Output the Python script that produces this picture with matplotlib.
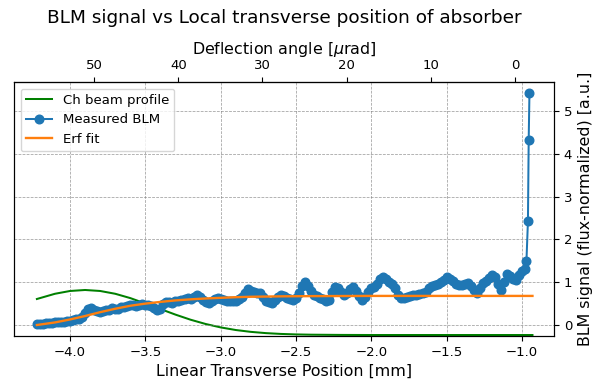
import numpy as np
import matplotlib
matplotlib.use("Agg")
import matplotlib.pyplot as plt

# ---- data ----
blm_x = [-4.22, -4.20, -4.18, -4.16, -4.14, -4.12, -4.10, -4.08, -4.06, -4.04,
         -4.02, -4.00, -3.98, -3.96, -3.94, -3.92, -3.90, -3.88, -3.86, -3.84,
         -3.82, -3.80, -3.78, -3.76, -3.74, -3.72, -3.70, -3.68, -3.66, -3.64,
         -3.62, -3.60, -3.58, -3.56, -3.54, -3.52, -3.50, -3.48, -3.46, -3.44,
         -3.42, -3.40, -3.38, -3.36, -3.34, -3.32, -3.30, -3.28, -3.26, -3.24,
         -3.22, -3.20, -3.18, -3.16, -3.14, -3.12, -3.10, -3.08, -3.06, -3.04,
         -3.02, -3.00, -2.98, -2.96, -2.94, -2.92, -2.90, -2.88, -2.86, -2.84,
         -2.82, -2.80, -2.78, -2.76, -2.74, -2.72, -2.70, -2.68, -2.66, -2.64,
         -2.62, -2.60, -2.58, -2.56, -2.54, -2.52, -2.50, -2.48, -2.46, -2.44,
         -2.42, -2.40, -2.38, -2.36, -2.34, -2.32, -2.30, -2.28, -2.26, -2.24,
         -2.22, -2.20, -2.18, -2.16, -2.14, -2.12, -2.10, -2.08, -2.06, -2.04,
         -2.02, -2.00, -1.98, -1.96, -1.94, -1.92, -1.90, -1.88, -1.86, -1.84,
         -1.82, -1.80, -1.78, -1.76, -1.74, -1.72, -1.70, -1.68, -1.66, -1.64,
         -1.62, -1.60, -1.58, -1.56, -1.54, -1.52, -1.50, -1.48, -1.46, -1.44,
         -1.42, -1.40, -1.38, -1.36, -1.34, -1.32, -1.30, -1.28, -1.26, -1.24,
         -1.22, -1.20, -1.18, -1.16, -1.14, -1.12, -1.10, -1.08, -1.06, -1.04,
         -1.02, -1.00, -0.98, -0.97, -0.96, -0.955, -0.95]
blm_y = [0.02, 0.02, 0.03, 0.04, 0.04, 0.05, 0.06, 0.06, 0.07, 0.08,
         0.09, 0.10, 0.11, 0.13, 0.15, 0.19, 0.27, 0.38, 0.40, 0.35,
         0.32, 0.31, 0.32, 0.34, 0.36, 0.39, 0.38, 0.37, 0.41, 0.43,
         0.45, 0.47, 0.46, 0.44, 0.47, 0.48, 0.47, 0.46, 0.44, 0.40,
         0.35, 0.38, 0.48, 0.54, 0.53, 0.52, 0.56, 0.57, 0.58, 0.61,
         0.62, 0.60, 0.66, 0.70, 0.66, 0.58, 0.53, 0.51, 0.56, 0.61,
         0.63, 0.60, 0.58, 0.56, 0.55, 0.55, 0.57, 0.60, 0.66, 0.74,
         0.83, 0.80, 0.76, 0.75, 0.74, 0.66, 0.57, 0.53, 0.52, 0.58,
         0.66, 0.70, 0.68, 0.64, 0.60, 0.58, 0.62, 0.74, 0.92, 1.01,
         0.92, 0.80, 0.70, 0.68, 0.64, 0.60, 0.56, 0.58, 0.76, 0.90,
         0.86, 0.78, 0.70, 0.74, 0.84, 0.90, 0.80, 0.68, 0.58, 0.66,
         0.78, 0.86, 0.88, 0.96, 1.08, 1.13, 1.08, 1.00, 0.96, 0.86,
         0.70, 0.63, 0.62, 0.65, 0.68, 0.70, 0.71, 0.72, 0.74, 0.78,
         0.86, 0.92, 0.93, 0.96, 1.00, 1.06, 1.13, 1.08, 1.02, 0.97,
         0.94, 0.93, 0.96, 0.98, 0.92, 0.82, 0.74, 0.86, 0.98, 1.03,
         1.10, 1.16, 1.12, 0.96, 0.82, 1.00, 1.20, 1.14, 1.08, 1.05,
         1.18, 1.26, 1.30, 1.49, 2.43, 4.33, 5.42]

fit_x = [-4.22, -4.1, -4.0, -3.9, -3.8, -3.7, -3.6, -3.5, -3.4, -3.3, -3.2,
         -3.1, -3.0, -2.9, -2.8, -2.7, -2.6, -2.4, -2.0, -1.5, -0.93]
fit_y = [0.00, 0.06, 0.13, 0.21, 0.30, 0.38, 0.45, 0.50, 0.54, 0.575, 0.60,
         0.62, 0.635, 0.65, 0.66, 0.665, 0.67, 0.675, 0.68, 0.68, 0.68]

prof_x = [-4.22, -4.1, -4.0, -3.9, -3.8, -3.7, -3.6, -3.5, -3.4, -3.3, -3.2,
          -3.1, -3.0, -2.9, -2.8, -2.7, -2.6, -2.5, -2.4, -2.2, -2.0, -0.93]
prof_y = [0.80, 0.916, 0.978, 1.0, 0.978, 0.916, 0.82, 0.70, 0.577, 0.453, 0.34,
          0.245, 0.169, 0.111, 0.07, 0.042, 0.024, 0.013, 0.007, 0.002, 0.0, 0.0]

# ---- figure ----
fig = plt.figure(figsize=(6.06, 3.85), dpi=100)
ax = fig.add_axes([14/606, 1-336/385, (554-14)/606, (336-82)/385])
ax2 = ax.twinx()

l1, = ax.plot(prof_x, prof_y, color="green", lw=1.45, label="Ch beam profile")
ax.set_ylim(-0.022, 5.62)
ax.tick_params(axis="y", left=False, labelleft=False, right=False, labelright=False)
ax.tick_params(axis="x", labelsize=9.5)

l2, = ax2.plot(blm_x, blm_y, "o-", color="#1f77b4", ms=6.2, lw=1.45, label="Measured BLM")
l3, = ax2.plot(fit_x, fit_y, color="#ff7f0e", lw=1.7, label="Erf fit")
ax2.set_ylim(-0.257, 5.68)
ax2.set_xlim(-4.372, -0.787)
ax.set_xlim(-4.372, -0.787)
ax2.tick_params(axis="y", labelsize=9.5)
ax2.grid(True, ls="--", color="grey", lw=0.55, alpha=0.75)
ax.grid(True, axis="x", ls="--", color="grey", lw=0.55, alpha=0.75)
ax2.set_ylabel("BLM signal (flux-normalized) [a.u.]", fontsize=11.4)
ax.set_xlabel("Linear Transverse Position [mm]", fontsize=11.4)

x0 = -1.0465
k = 17.9
sec = ax.secondary_xaxis("top", functions=(lambda x: (x0 - x) * k, lambda a: x0 - a / k))
sec.set_xlabel("Deflection angle [$\\mu$rad]", fontsize=11.4)
sec.tick_params(labelsize=9.5)

ax2.legend(handles=[l1, l2, l3], loc="upper left", fontsize=9.5)

fig.text(284/606, 1 - 18/385, "BLM signal vs Local transverse position of absorber",
         ha="center", va="center", fontsize=13.3)

fig.savefig("out.png", dpi=100)
